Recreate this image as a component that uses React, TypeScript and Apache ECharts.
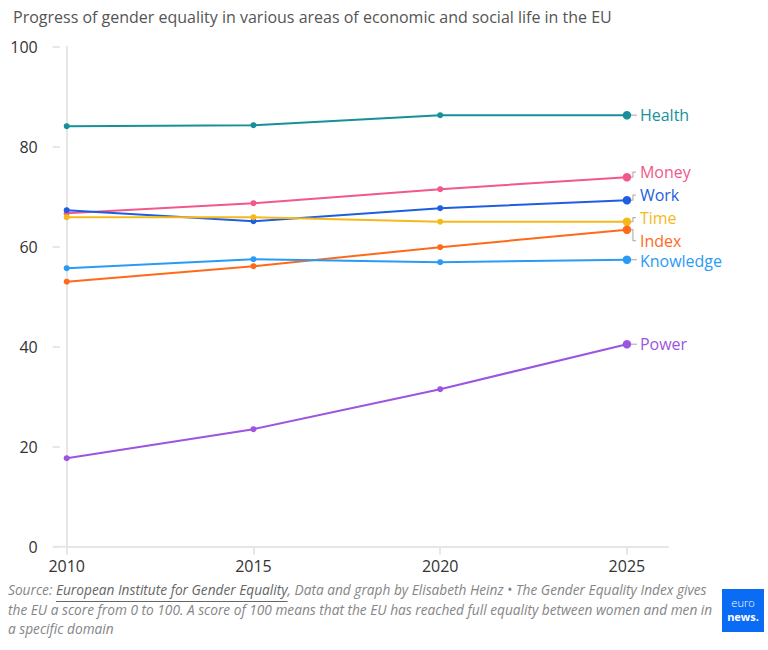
import React, { useEffect, useRef } from "react";
import * as echarts from "echarts";

const years = [2010, 2015, 2020, 2025];
const yTicks = [0, 20, 40, 60, 80, 100];
const seriesNames = ["Health", "Money", "Work", "Time", "Index", "Knowledge", "Power"];
const health = [84.1, 84.3, 86.3, 86.3];
const money = [66.7, 68.7, 71.5, 73.9];
const work = [67.3, 65.1, 67.7, 69.3];
const time = [65.9, 65.9, 65.0, 65.0];
const indexScore = [53.0, 56.1, 59.9, 63.4];
const knowledge = [55.7, 57.5, 56.9, 57.4];
const power = [17.7, 23.5, 31.5, 40.5];
const values = [health, money, work, time, indexScore, knowledge, power];

const titleText = "Progress of gender equality in various areas of economic and social life in the EU";
const footerPrefix = "Source: ";
const footerLink = "European Institute for Gender Equality";
const footerLine1Rest = ", Data and graph by Elisabeth Heinz \u2022 The Gender Equality Index gives";
const footerLine2 = "the EU a score from 0 to 100. A score of 100 means that the EU has reached full equality between women and men in";
const footerLine3 = "a specific domain";

// styles
const colors: Record<string, string> = {
  Health: "#17909a",
  Money: "#f2588c",
  Work: "#1f5ee0",
  Time: "#f5b91a",
  Index: "#ff6a1a",
  Knowledge: "#2a9bf5",
  Power: "#9b55e0",
};
const labelShift: Record<string, number> = {
  Health: 0,
  Money: -5,
  Work: -5,
  Time: -4,
  Index: 11,
  Knowledge: 1,
  Power: 0,
};

const FONT = "'Open Sans', 'Noto Sans', sans-serif";
const GRID_LINE = "#e6e6e6";
const FOOT_SIZE = 13.7;

export default function App() {
  const ref = useRef<HTMLDivElement>(null);
  useEffect(() => {
    document.body.style.margin = "0";
    const chart = echarts.init(ref.current!, null, { renderer: "svg" });
    const series = seriesNames.map((name, i) => ({
      name,
      type: "line",
      xAxisIndex: 0,
      yAxisIndex: 0,
      data: years.map((y, j) => [y, values[i][j]]),
      symbol: "circle",
      symbolSize: (_v: any, p: any) => (p.dataIndex === years.length - 1 ? 8.5 : 6),
      color: colors[name],
      lineStyle: { width: 2, color: colors[name] },
      itemStyle: { color: colors[name] },
      emphasis: { disabled: true },
      endLabel: {
        show: true,
        formatter: "{a}",
        color: colors[name],
        fontFamily: FONT,
        fontSize: 16,
        lineHeight: 16,
        distance: 13,
        offset: [0, labelShift[name]],
      },
    }));

    chart.setOption({
      animation: false,
      textStyle: { fontFamily: FONT },
      title: {
        text: titleText,
        left: 8,
        top: 4,
        textStyle: { fontFamily: FONT, fontSize: 16, fontWeight: "normal", color: "#555" },
      },
      grid: { left: 66.7, right: 100, top: 46.7, bottom: 103.3, containLabel: false },
      xAxis: {
        type: "value",
        min: 2010,
        max: 2026.1,
        interval: 5,
        splitLine: { show: false },
        axisLine: { show: true, lineStyle: { color: GRID_LINE, width: 2 } },
        axisTick: { show: true, length: 8, lineStyle: { color: GRID_LINE, width: 2 }, customValues: years },
        axisLabel: {
          customValues: years,
          color: "#333",
          fontSize: 16,
          fontFamily: FONT,
          margin: 11,
          formatter: (v: number) => String(v),
        },
      },
      yAxis: [
        {
          type: "value",
          min: 0,
          max: 100,
          interval: 20,
          position: "left",
          splitLine: { show: false },
          axisLine: { show: true, lineStyle: { color: GRID_LINE, width: 2 } },
          axisTick: { show: false },
          axisLabel: { show: false },
        },
        {
          type: "value",
          min: 0,
          max: 100,
          interval: 20,
          position: "left",
          offset: 7,
          splitLine: { show: false },
          axisLine: { show: false },
          axisTick: { show: true, length: 7, lineStyle: { color: GRID_LINE, width: 2 } },
          axisLabel: { color: "#333", fontSize: 16, fontFamily: FONT, margin: 22 },
          data: yTicks,
        },
      ],
      series,
    });

    const graphics: any[] = [];
    // extend the zero line to the left, as in the reference
    const zero = chart.convertToPixel({ xAxisIndex: 0, yAxisIndex: 0 }, [years[0], yTicks[0]]) as number[];
    graphics.push({
      type: "line",
      silent: true,
      shape: { x1: zero[0] - 14, y1: zero[1], x2: zero[0], y2: zero[1] },
      style: { stroke: GRID_LINE, lineWidth: 2 },
    });

    // connectors from end points to labels
    seriesNames.forEach((name, i) => {
      const last = years.length - 1;
      const p = chart.convertToPixel({ xAxisIndex: 0, yAxisIndex: 0 }, [years[last], values[i][last]]) as number[];
      const dy = labelShift[name];
      const pts = Math.abs(dy) <= 1
        ? [[p[0] + 4, p[1]], [p[0] + 10, p[1]]]
        : [[p[0] + 4, p[1]], [p[0] + 6, p[1]], [p[0] + 6, p[1] + dy], [p[0] + 9, p[1] + dy]];
      graphics.push({
        type: "polyline",
        shape: { points: pts },
        style: { stroke: "#b5b5b5", lineWidth: 1.2, fill: null },
        z: 1,
        silent: true,
      });
    });

    // footer
    const ctx = document.createElement("canvas").getContext("2d")!;
    ctx.font = `italic ${FOOT_SIZE}px 'Open Sans'`;
    const wPrefix = ctx.measureText(footerPrefix).width;
    const wLink = ctx.measureText(footerLink).width;
    const footStyle = { fontFamily: FONT, fontSize: FOOT_SIZE, fontStyle: "italic", fill: "#858585" };
    const fx = 8;
    graphics.push(
      { type: "text", left: fx, top: 582.5, silent: true, style: { ...footStyle, text: footerPrefix } },
      { type: "text", left: fx + wPrefix, top: 582.5, silent: true, style: { ...footStyle, fill: "#666", text: footerLink } },
      { type: "line", silent: true, shape: { x1: fx + wPrefix, y1: 601.5, x2: fx + wPrefix + wLink, y2: 601.5 }, style: { stroke: "#666", lineWidth: 1 } },
      { type: "text", left: fx + wPrefix + wLink, top: 582.5, silent: true, style: { ...footStyle, text: footerLine1Rest } },
      { type: "text", left: fx, top: 602, silent: true, style: { ...footStyle, text: footerLine2 } },
      { type: "text", left: fx, top: 621.5, silent: true, style: { ...footStyle, text: footerLine3 } },
      { type: "rect", silent: true, shape: { x: 722, y: 589, width: 42, height: 43 }, style: { fill: "#0a6cf5" } },
      { type: "text", silent: true, x: 743, y: 602, style: { text: "euro", fill: "#fff", fontFamily: FONT, fontSize: 11, fontWeight: 300, align: "center", verticalAlign: "middle", lineHeight: 11 } },
      { type: "text", silent: true, x: 743, y: 616.5, style: { text: "news.", fill: "#fff", fontFamily: FONT, fontSize: 11, fontWeight: "bold", align: "center", verticalAlign: "middle", lineHeight: 11 } },
    );
    chart.setOption({ graphic: graphics });

    return () => chart.dispose();
  }, []);
  return <div ref={ref} style={{ width: 768, height: 650 }} />;
}
